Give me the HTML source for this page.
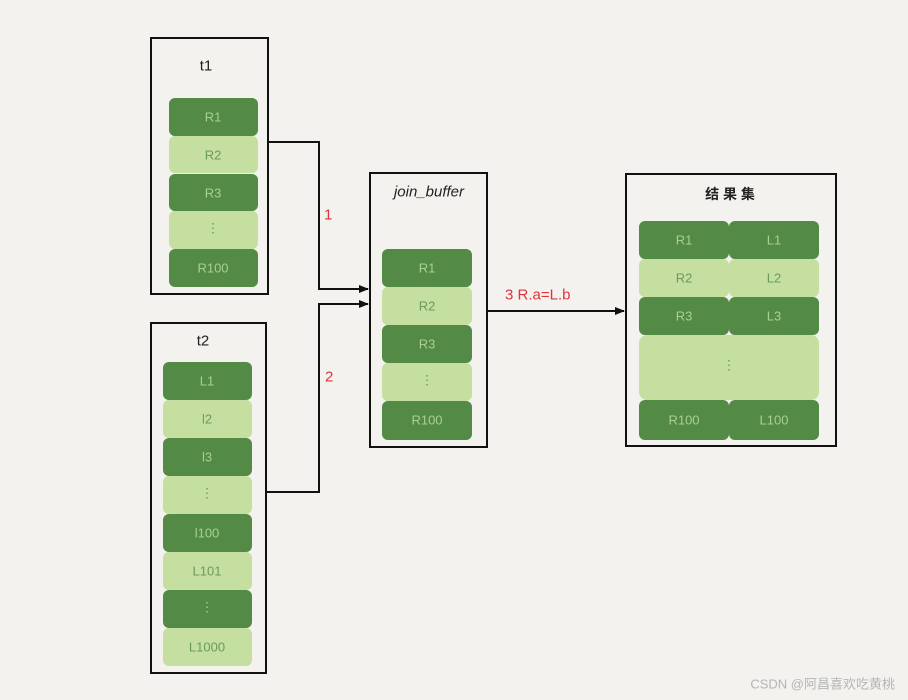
<!DOCTYPE html>
<html><head><meta charset="utf-8"><style>
html,body{margin:0;padding:0;background:#f3f2ef;}
svg{display:block}
text{font-family:"Liberation Sans","Noto Sans CJK SC",sans-serif;}
</style></head><body>
<svg width="908" height="700" viewBox="0 0 908 700" xmlns="http://www.w3.org/2000/svg">
<rect width="908" height="700" fill="#f3f2ef"/>
<defs><marker id="a" markerWidth="10" markerHeight="8" refX="9" refY="4" orient="auto" markerUnits="userSpaceOnUse"><path d="M0,0 L10,4 L0,8 z" fill="#111"/></marker></defs>
<g stroke="#111" stroke-width="2" fill="none">
<rect x="151" y="38" width="117" height="256"/>
<rect x="151" y="323" width="115" height="350"/>
<rect x="370" y="173" width="117" height="274"/>
<rect x="626" y="174" width="210" height="272"/>
<polyline points="268,142 319,142 319,289 368,289" marker-end="url(#a)"/>
<polyline points="266,492 319,492 319,304 368,304" marker-end="url(#a)"/>
<line x1="487" y1="311" x2="624" y2="311" marker-end="url(#a)"/>
</g>
<g font-size="13" text-anchor="middle" dominant-baseline="central">
<!-- t1 -->
<rect x="169" y="98" width="89" height="38" rx="6" fill="#538a45"/><text x="213" y="117" fill="#a9d08e">R1</text>
<rect x="169" y="136" width="89" height="37" rx="6" fill="#c5dfa0"/><text x="213" y="155" fill="#6b9a5a">R2</text>
<rect x="169" y="174" width="89" height="37" rx="6" fill="#538a45"/><text x="213" y="193" fill="#a9d08e">R3</text>
<rect x="169" y="211" width="89" height="38" rx="6" fill="#c5dfa0"/><text x="213" y="228" fill="#6b9a5a">⋮</text>
<rect x="169" y="249" width="89" height="38" rx="6" fill="#538a45"/><text x="213" y="268" fill="#a9d08e">R100</text>
<!-- t2 -->
<rect x="163" y="362" width="89" height="38" rx="6" fill="#538a45"/><text x="207" y="381" fill="#a9d08e">L1</text>
<rect x="163" y="400" width="89" height="38" rx="6" fill="#c5dfa0"/><text x="207" y="419" fill="#6b9a5a">l2</text>
<rect x="163" y="438" width="89" height="38" rx="6" fill="#538a45"/><text x="207" y="457" fill="#a9d08e">l3</text>
<rect x="163" y="476" width="89" height="38" rx="6" fill="#c5dfa0"/><text x="207" y="493" fill="#6b9a5a">⋮</text>
<rect x="163" y="514" width="89" height="38" rx="6" fill="#538a45"/><text x="207" y="533" fill="#a9d08e">l100</text>
<rect x="163" y="552" width="89" height="38" rx="6" fill="#c5dfa0"/><text x="207" y="571" fill="#6b9a5a">L101</text>
<rect x="163" y="590" width="89" height="38" rx="6" fill="#538a45"/><text x="207" y="607" fill="#a9d08e">⋮</text>
<rect x="163" y="628" width="89" height="38" rx="6" fill="#c5dfa0"/><text x="207" y="647" fill="#6b9a5a">L1000</text>
<!-- join buffer -->
<rect x="382" y="249" width="90" height="38" rx="6" fill="#538a45"/><text x="427" y="268" fill="#a9d08e">R1</text>
<rect x="382" y="287" width="90" height="38" rx="6" fill="#c5dfa0"/><text x="427" y="306" fill="#6b9a5a">R2</text>
<rect x="382" y="325" width="90" height="38" rx="6" fill="#538a45"/><text x="427" y="344" fill="#a9d08e">R3</text>
<rect x="382" y="363" width="90" height="38" rx="6" fill="#c5dfa0"/><text x="427" y="380" fill="#6b9a5a">⋮</text>
<rect x="382" y="401" width="90" height="39" rx="6" fill="#538a45"/><text x="427" y="420" fill="#a9d08e">R100</text>
<!-- result -->
<rect x="639" y="221" width="90" height="38" rx="6" fill="#538a45"/><text x="684" y="240" fill="#a9d08e">R1</text>
<rect x="729" y="221" width="90" height="38" rx="6" fill="#538a45"/><text x="774" y="240" fill="#a9d08e">L1</text>
<rect x="639" y="259" width="90" height="38" rx="6" fill="#c5dfa0"/><text x="684" y="278" fill="#6b9a5a">R2</text>
<rect x="729" y="259" width="90" height="38" rx="6" fill="#c5dfa0"/><text x="774" y="278" fill="#6b9a5a">L2</text>
<rect x="639" y="297" width="90" height="38" rx="6" fill="#538a45"/><text x="684" y="316" fill="#a9d08e">R3</text>
<rect x="729" y="297" width="90" height="38" rx="6" fill="#538a45"/><text x="774" y="316" fill="#a9d08e">L3</text>
<rect x="639" y="335" width="180" height="65" rx="8" fill="#c5dfa0"/><text x="729" y="365" fill="#6b9a5a">⋮</text>
<rect x="639" y="400" width="90" height="40" rx="6" fill="#538a45"/><text x="684" y="420" fill="#a9d08e">R100</text>
<rect x="729" y="400" width="90" height="40" rx="6" fill="#538a45"/><text x="774" y="420" fill="#a9d08e">L100</text>
</g>
<g font-size="15" fill="#222" text-anchor="middle" dominant-baseline="central">
<text x="206" y="66">t1</text>
<text x="203" y="341">t2</text>
<text x="429" y="192" font-style="italic">join_buffer</text>
<text x="730" y="194" font-weight="bold" font-size="14">结 果 集</text>
</g>
<g font-size="15" fill="#e0333a" dominant-baseline="central">
<text x="324" y="215">1</text>
<text x="325" y="377">2</text>
<text x="505" y="295">3 R.a=L.b</text>
</g>
<text x="895" y="684" font-size="13" fill="#b5b5b5" text-anchor="end" dominant-baseline="central">CSDN @阿昌喜欢吃黄桃</text>
</svg>
</body></html>
